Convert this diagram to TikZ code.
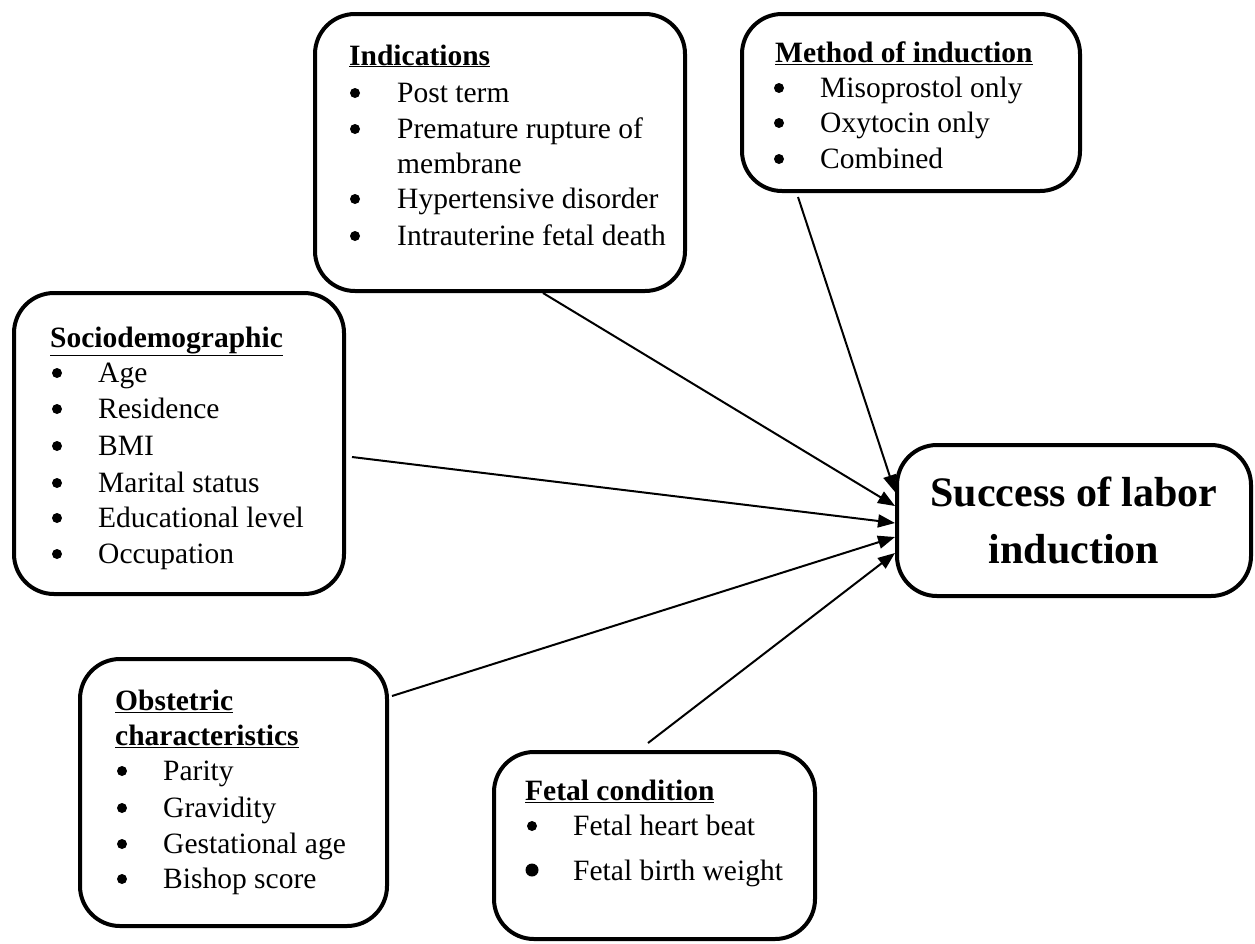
\documentclass[tikz,border=0pt]{standalone}
\usepackage{fontspec}
\setmainfont{Liberation Serif}
\usetikzlibrary{arrows.meta}
\tikzset{
  box/.style={draw, line width=4pt, rounded corners=40pt, inner sep=0pt},
  itm/.style={anchor=base west, inner sep=0pt, font=\fontsize{29.5}{36}\selectfont},
  hdr/.style={anchor=base west, inner sep=0pt, font=\fontsize{29.5}{36}\selectfont\bfseries},
  bul/.style={circle, fill, inner sep=0pt, minimum size=10pt},
  conn/.style={line width=2pt, -{Triangle[length=17pt,width=13pt]}},
}
\begin{document}
\begin{tikzpicture}[x=1pt,y=-1pt]
\useasboundingbox (0,0) rectangle (1255,943);
% boxes
\node[box, minimum width=370pt, minimum height=277pt] (ind) at (500,152.5) {};
\node[box, minimum width=338pt, minimum height=177pt] (meth) at (911,102.5) {};
\node[box, minimum width=330pt, minimum height=301pt] (soc) at (179,443.5) {};
\node[box, minimum width=307pt, minimum height=267pt] (obs) at (233.5,792.5) {};
\node[box, minimum width=321pt, minimum height=187pt] (fet) at (654.5,845.5) {};
\node[box, minimum width=354pt, minimum height=151pt, align=center,
      font=\fontsize{42}{57}\selectfont\bfseries] (succ) at (1074,520.5)
      {Success of labor\\induction};
% Indications
\node[hdr] (indh) at (349,65) {\underline{Indications}};
\node[bul] (indb1) at (355,93) {};
\node[itm] (indt1) at (397,102) {Post term};
\node[bul] (indb2) at (355,129) {};
\node[itm] (indt2) at (397,138) {Premature rupture of};
\node[itm] (indt2b) at (397,173) {membrane};
\node[bul] (indb3) at (355,199) {};
\node[itm] (indt3) at (397,208) {Hypertensive disorder};
\node[bul] (indb4) at (355,236) {};
\node[itm] (indt4) at (397,245) {Intrauterine fetal death};
% Method
\node[hdr] (meh) at (775,62) {\underline{Method of induction}};
\node[bul] (meb1) at (779,88) {};
\node[itm] (met1) at (820,97) {Misoprostol only};
\node[bul] (meb2) at (779,123) {};
\node[itm] (met2) at (820,132) {Oxytocin only};
\node[bul] (meb3) at (779,159) {};
\node[itm] (met3) at (820,168) {Combined};
% Sociodemographic
\node[hdr] (soh) at (50,347) {\underline{Sociodemographic}};
\node[bul] (sob1) at (57,373) {};
\node[itm] (sot1) at (98,382) {Age};
\node[bul] (sob2) at (57,409) {};
\node[itm] (sot2) at (98,418) {Residence};
\node[bul] (sob3) at (57,446) {};
\node[itm] (sot3) at (98,455) {BMI};
\node[bul] (sob4) at (57,483) {};
\node[itm] (sot4) at (98,492) {Marital status};
\node[bul] (sob5) at (57,518) {};
\node[itm] (sot5) at (98,527) {Educational level};
\node[bul] (sob6) at (57,554) {};
\node[itm] (sot6) at (98,563) {Occupation};
% Obstetric
\node[hdr] (obh1) at (115,710) {\underline{Obstetric}};
\node[hdr] (obh2) at (115,745) {\underline{characteristics}};
\node[bul] (obb1) at (122,771) {};
\node[itm] (obt1) at (163,780) {Parity};
\node[bul] (obb2) at (122,808) {};
\node[itm] (obt2) at (163,817) {Gravidity};
\node[bul] (obb3) at (122,844) {};
\node[itm] (obt3) at (163,853) {Gestational age};
\node[bul] (obb4) at (122,879) {};
\node[itm] (obt4) at (163,888) {Bishop score};
% Fetal
\node[hdr] (feh) at (525,800) {\underline{Fetal condition}};
\node[bul] (feb1) at (532,826) {};
\node[itm] (fet1) at (573,835) {Fetal heart beat};
\node[bul, minimum size=13pt] (feb2) at (532,870) {};
\node[itm] (fet2) at (573,880) {Fetal birth weight};
% connector points
\coordinate (s1) at (798,197);
\coordinate (s2) at (543,293);
\coordinate (s3) at (352,457);
\coordinate (s4) at (392,696);
\coordinate (s5) at (648,743);
\coordinate (e1) at (895,492);
\coordinate (e2) at (895,506);
\coordinate (e3) at (895,523);
\coordinate (e4) at (895,537);
\coordinate (e5) at (895,553);
\draw[conn] (s1) -- (e1);
\draw[conn] (s2) -- (e2);
\draw[conn] (s3) -- (e3);
\draw[conn] (s4) -- (e4);
\draw[conn] (s5) -- (e5);
\end{tikzpicture}
\end{document}
